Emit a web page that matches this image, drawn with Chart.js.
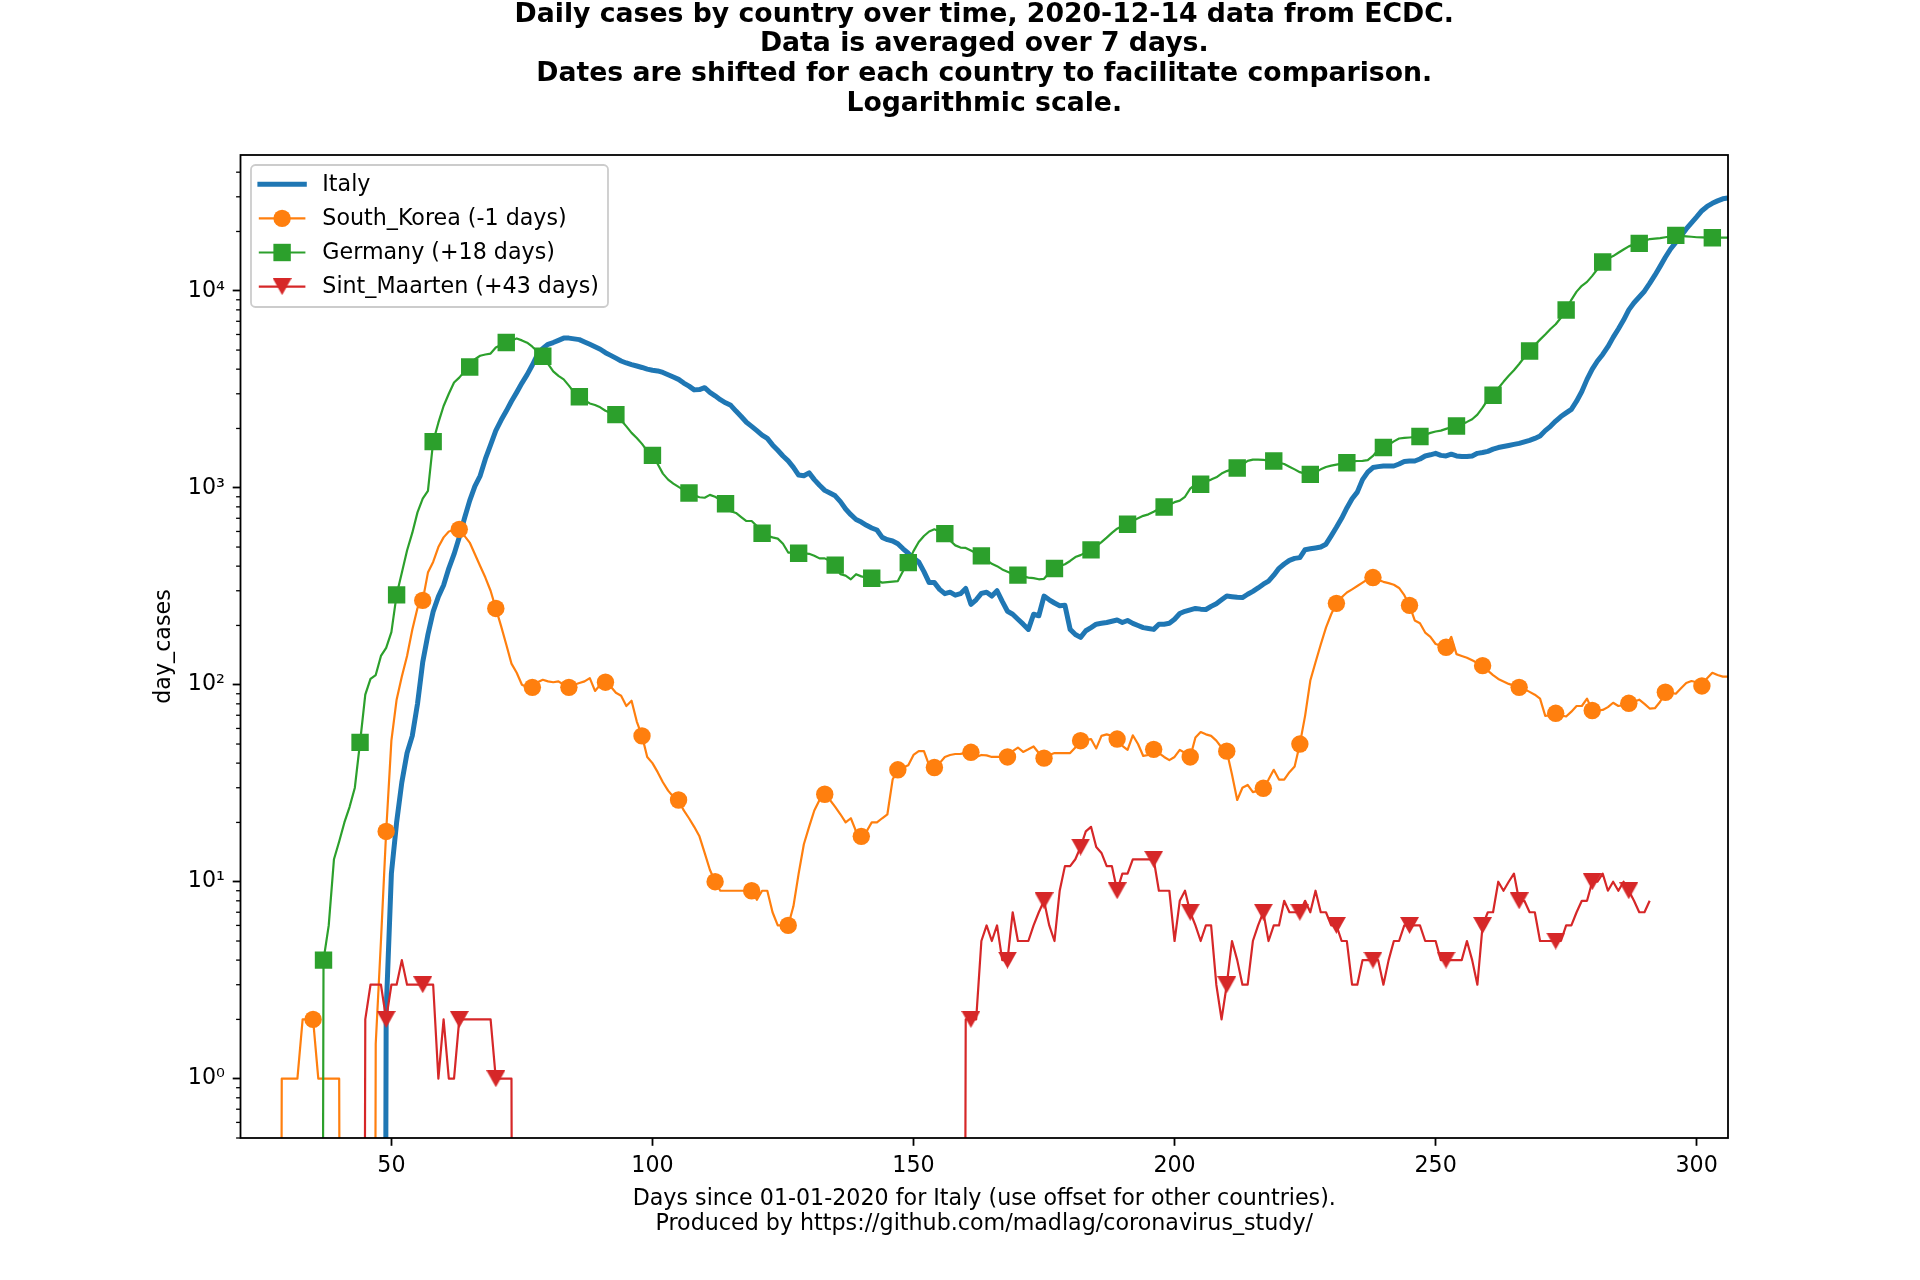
<!DOCTYPE html>
<html>
<head>
<meta charset="utf-8">
<script src="https://cdn.jsdelivr.net/npm/chart.js@4.4.1/dist/chart.umd.min.js"></script>
<style>
html,body{margin:0;padding:0;background:#fff;}
canvas{display:block;}
</style>
</head>
<body>
<canvas id="c" width="1920" height="1280" style="width:1920px;height:1280px"></canvas>
<script>
// ---------------- data ----------------
const titleLines = [
  'Daily cases by country over time, 2020-12-14 data from ECDC.',
  'Data is averaged over 7 days.',
  'Dates are shifted for each country to facilitate comparison.',
  'Logarithmic scale.'
];
const xLabelLines = [
  'Days since 01-01-2020 for Italy (use offset for other countries).',
  'Produced by https://github.com/madlag/coronavirus_study/'
];
const yLabel = 'day_cases';
const seriesLabels = ['Italy', 'South_Korea (-1 days)', 'Germany (+18 days)', 'Sint_Maarten (+43 days)'];

const xTickValues = [50, 100, 150, 200, 250, 300];
const yTickValues = [1, 10, 100, 1000, 10000];
const yTickLabels = ['10\u2070', '10\u00B9', '10\u00B2', '10\u00B3', '10\u2074'];

// Italy: one value per day starting at day 48
const italyStart = 48;
const italyCases = [0,2.2,11,20,32,45,55,80,130,180,235,280,320,390,460,560,700,860,1020,1150,1400,1650,1950,2200,2450,2750,3050,3400,3750,4200,4750,5100,5350,5460,5600,5750,5750,5700,5650,5500,5350,5200,5050,4850,4700,4550,4400,4300,4220,4150,4080,4000,3950,3920,3850,3750,3650,3550,3400,3280,3140,3150,3220,3050,2930,2800,2700,2620,2450,2300,2150,2050,1950,1850,1780,1650,1550,1450,1370,1270,1160,1150,1190,1100,1030,970,940,910,850,780,730,690,670,645,625,610,560,545,537,520,490,465,440,420,375,330,330,305,290,295,285,290,308,256,270,291,295,282,300,265,236,228,215,203,191,228,224,282,270,260,252,253,191,180,174,188,195,203,205,207,210,213,207,212,205,200,195,193,191,203,203,205,215,230,236,240,244,242,241,250,258,270,282,280,278,277,288,298,310,324,336,360,390,410,428,438,442,485,490,495,500,517,570,630,700,790,880,950,1100,1200,1266,1280,1290,1290,1290,1320,1360,1367,1367,1400,1450,1470,1495,1460,1450,1480,1450,1440,1440,1450,1495,1510,1530,1570,1600,1620,1640,1660,1680,1710,1740,1780,1830,1950,2050,2180,2300,2400,2500,2750,3080,3550,4000,4400,4750,5200,5800,6400,7100,8000,8700,9300,9950,10900,12000,13300,14800,16300,17600,19000,20600,22100,23700,25500,26800,27800,28600,29300,29600];

// South Korea: one value per day starting at day 28
const skStart = 28;
const skCases = [0,1,1,1,1,2,2,2,1,1,1,1,1,0,0,0,0,0,0,1.5,5,18,52,84,110,140,190,245,268,371,420,500,560,600,610,615,570,527,460,401,350,300,244,199,160,128,115,100,97,97,103,106,104,103,104,100,97,100,102,104,108,93,100,103,98,91,88,78,83,65,55,43,40,36,32,29,27,26,23,21,19,17,14,11.5,10,9,9,9,9,9,9,9,8.1,9,9,7,6,6,6,7.5,11,15.5,19,23,26,27.8,26,24,22,20,21,18,17,18,20,20,21,22,33,37,38,39,44,46,46,39,38,40,43,44,44.5,44.6,45,45.4,43,44,43.8,43,43,43,43,46,48,45.6,47,48.6,45,42.4,44,45,45,45,45,48,52,52.5,53,47.5,55,56,55,53,49,46.7,55.4,50,43.5,44,47,45,43,41.4,43,46.7,45,43,54,57.5,56,55,52,48,46,35,26,30,31,28.5,29,29.8,33,37,33,33,36,38.5,50,69.5,105,130,160,195,228,259,278,294,305,317,330,343,350,340,333,328,322,310,285,253,212,205,184,175,161,158,155,175,143,140,137,133,129,125,118,112,107,104,101,99,97,95,92,89,85,69.5,70,71.6,70,69,73,78,78,85,74,74,74.5,77,81,78,79,80.5,82,84,80,75.7,76,82,91.6,91,90,96,102,104.5,103,98.6,108,115,112,110,110];

// Germany: one value per day starting at day 36
const deStart = 36;
const deCases = [0,4,6,13,16,20,24,30,51,89,107,112,140,154,185,286,370,480,590,750,880,964,1715,2140,2600,3000,3420,3625,3900,4100,4500,4680,4750,4800,5150,5300,5460,5600,5730,5600,5450,5200,4900,4650,4250,3900,3700,3550,3300,3050,2900,2780,2680,2630,2560,2460,2400,2350,2200,2050,1900,1790,1670,1540,1460,1320,1180,1100,1050,1010,975,940,915,895,890,920,900,870,830,760,745,710,678,678,640,588,570,560,552,520,469,470,465,465,462,452,438,438,425,405,364,358,343,364,355,350,347,338,330,332,334,336,378,417,477,530,569,600,615,600,585,540,510,497,495,480,465,451,430,411,400,385,375,365,360,355,350,348,343,345,370,389,400,409,425,445,455,470,484,505,530,558,590,620,640,653,680,700,720,733,755,780,798,820,845,860,900,990,1042,1042,1075,1100,1130,1180,1215,1240,1260,1310,1370,1390,1390,1385,1375,1367,1340,1320,1280,1240,1200,1180,1170,1200,1240,1275,1295,1310,1325,1340,1360,1367,1370,1380,1450,1560,1600,1650,1720,1778,1790,1800,1810,1820,1860,1900,1930,1950,1990,2030,2060,2100,2160,2228,2350,2550,2800,2950,3200,3450,3700,3950,4250,4600,4945,5300,5650,6000,6400,6760,7300,7985,9000,9900,10600,11100,11900,12900,14000,14600,15000,15600,16200,16800,17200,17400,17900,18300,18400,18500,18700,18900,19100,19000,18900,18800,18700,18650,18600,18600,18600,18600,18600];

// Sint Maarten: explicit days (zero between day 74 and day 159)
const smDays = [44,45,46,47,48,49,50,51,52,53,54,55,56,57,58,59,60,61,62,63,64,65,66,67,68,69,70,71,72,73,74,
  159,160,161,162,163,164,165,166,167,168,169,170,171,172,173,174,175,176,177,178,179,180,181,182,183,184,185,186,187,188,189,190,
  191,192,193,194,195,196,197,198,199,200,201,202,203,204,205,206,207,208,209,210,211,212,213,214,215,216,217,218,219,220,
  221,222,223,224,225,226,227,228,229,230,231,232,233,234,235,236,237,238,239,240,241,242,243,244,245,246,247,248,249,250,
  251,252,253,254,255,256,257,258,259,260,261,262,263,264,265,266,267,268,269,270,271,272,273,274,275,276,277,278,279,280,
  281,282,283,284,285,286,287,288,289,290,291];
const smCases = [0,2,3,3,3,2,3,3,4,3,3,3,3,3,3,1,2,1,1,2,2,2,2,2,2,2,1,1,1,1,0,
  0,2,2,2,5,6,5,6,4,4,7,5,5,5,6,7,8,6,5,9,12,12,13,15,18,19,15,14,12,12,9,11,
  11,13,13,13,13,13,9,9,9,5,8,9,7,6,5,6,6,3,2,3,5,4,3,3,5,6,7,5,6,6,
  8,7,7,7,8,7,9,7,7,6,6,5,5,3,3,4,4,4,4,3,4,5,5,6,6,6,6,5,5,5,
  4,4,4,4,4,5,4,3,6,7,7,10,9,10,11,8,8,7,7,5,5,5,5,5,6,6,7,8,8,10,
  10,11,9,10,9,10,9,8,7,7,8];

// ---------------- helpers ----------------
const CLIP = 1e-10; // like matplotlib, non-positive values are clipped on a log axis
function seq(start, n) { return Array.from({length: n}, (_, i) => start + i); }
function toPoints(days, values) {
  return days.map((d, i) => ({x: d, y: values[i] > 0 ? values[i] : CLIP}));
}
const FONT = 'DejaVu Sans';
const F = 22.2;
const COLORS = ['#1f77b4', '#ff7f0e', '#2ca02c', '#d62728'];

function triangleDown(color, w, h) {
  const c = document.createElement('canvas');
  c.width = w; c.height = h;
  const g = c.getContext('2d');
  g.fillStyle = color;
  g.beginPath(); g.moveTo(0, 0); g.lineTo(w, 0); g.lineTo(w / 2, h); g.closePath(); g.fill();
  return c;
}
const triImg = triangleDown(COLORS[3], 19, 17);

function markerRadius(phase, r) {
  return (ctx) => (ctx.raw && ctx.raw.x % 7 === phase) ? r : 0;
}

Chart.defaults.color = '#000';
Chart.defaults.font.family = FONT;

// ---------------- plugins ----------------
const framePlugin = {
  id: 'mplFrame',
  afterDatasetsDraw(chart) {
    const {ctx, chartArea: a} = chart;
    const y = chart.scales.y;
    ctx.save();
    ctx.strokeStyle = '#000';
    ctx.lineWidth = 1.3;
    const e0 = Math.floor(Math.log10(y.min)), e1 = Math.ceil(Math.log10(y.max));
    for (let e = e0; e <= e1; e++) {
      for (let m = 2; m <= 9; m++) {
        const v = m * Math.pow(10, e);
        if (v < y.min || v > y.max) continue;
        const py = y.getPixelForValue(v);
        ctx.beginPath(); ctx.moveTo(a.left, py); ctx.lineTo(a.left - 4.4, py); ctx.stroke();
      }
    }
    ctx.lineWidth = 1.8;
    ctx.strokeRect(a.left, a.top, a.right - a.left, a.bottom - a.top);
    ctx.restore();
  }
};

const legendPlugin = {
  id: 'mplLegend',
  afterDraw(chart) {
    const ctx = chart.ctx;
    const bx = 251, by = 165, bw = 357, bh = 142, rr = 4.4;
    ctx.save();
    ctx.beginPath();
    ctx.moveTo(bx + rr, by);
    ctx.lineTo(bx + bw - rr, by); ctx.arcTo(bx + bw, by, bx + bw, by + rr, rr);
    ctx.lineTo(bx + bw, by + bh - rr); ctx.arcTo(bx + bw, by + bh, bx + bw - rr, by + bh, rr);
    ctx.lineTo(bx + rr, by + bh); ctx.arcTo(bx, by + bh, bx, by + bh - rr, rr);
    ctx.lineTo(bx, by + rr); ctx.arcTo(bx, by, bx + rr, by, rr);
    ctx.closePath();
    ctx.fillStyle = 'rgba(255,255,255,0.8)';
    ctx.fill();
    ctx.strokeStyle = '#cccccc';
    ctx.lineWidth = 1.8;
    ctx.stroke();

    const x0 = 259.9, x1 = 304.3, xm = (x0 + x1) / 2, tx = 322.3;
    chart.data.datasets.forEach((ds, i) => {
      const yy = 184.3 + 34.1 * i;
      ctx.beginPath();
      ctx.strokeStyle = ds.borderColor;
      ctx.lineWidth = ds.borderWidth;
      ctx.lineCap = 'square';
      ctx.moveTo(x0, yy); ctx.lineTo(x1, yy); ctx.stroke();
      ctx.fillStyle = ds.borderColor;
      if (ds.legendMarker === 'circle') {
        ctx.beginPath(); ctx.arc(xm, yy, 8.7, 0, Math.PI * 2); ctx.fill();
      } else if (ds.legendMarker === 'square') {
        ctx.fillRect(xm - 8.7, yy - 8.7, 17.4, 17.4);
      } else if (ds.legendMarker === 'triangle') {
        ctx.drawImage(triImg, xm - triImg.width / 2, yy - triImg.height / 2);
      }
      ctx.fillStyle = '#000';
      ctx.font = F + 'px "' + FONT + '"';
      ctx.textBaseline = 'middle';
      ctx.textAlign = 'left';
      ctx.fillText(ds.label, tx, yy + 1);
    });
    ctx.restore();
  }
};

// ---------------- chart ----------------
const common = {fill: false, tension: 0, borderJoinStyle: 'round', borderCapStyle: 'butt', pointBorderWidth: 0, pointHoverRadius: 0, clip: 0};

new Chart(document.getElementById('c'), {
  type: 'line',
  data: {
    datasets: [
      Object.assign({}, common, {
        label: seriesLabels[0], data: toPoints(seq(italyStart, italyCases.length), italyCases),
        borderColor: COLORS[0], borderWidth: 5, pointRadius: 0, order: 4, legendMarker: null
      }),
      Object.assign({}, common, {
        label: seriesLabels[1], data: toPoints(seq(skStart, skCases.length), skCases),
        borderColor: COLORS[1], borderWidth: 2.2, pointStyle: 'circle',
        pointRadius: markerRadius(0, 8.7), pointBackgroundColor: COLORS[1], order: 3, legendMarker: 'circle'
      }),
      Object.assign({}, common, {
        label: seriesLabels[2], data: toPoints(seq(deStart, deCases.length), deCases),
        borderColor: COLORS[2], borderWidth: 2.2, pointStyle: 'rect',
        pointRadius: markerRadius(2, 12.3), pointBackgroundColor: COLORS[2], order: 2, legendMarker: 'square'
      }),
      Object.assign({}, common, {
        label: seriesLabels[3], data: toPoints(smDays, smCases),
        borderColor: COLORS[3], borderWidth: 2.2, pointStyle: triImg,
        pointRadius: markerRadius(0, 9.5), pointBackgroundColor: COLORS[3], order: 1, legendMarker: 'triangle'
      })
    ]
  },
  options: {
    responsive: false,
    animation: false,
    devicePixelRatio: 1,
    events: [],
    layout: {padding: {left: 0, right: 192, top: 0, bottom: 0}},
    plugins: {legend: {display: false}, title: {display: false}, tooltip: {enabled: false}},
    scales: {
      x: {
        type: 'linear', position: 'bottom', min: 21.1, max: 306,
        afterBuildTicks: (s) => { s.ticks = xTickValues.map(v => ({value: v})); },
        afterFit: (s) => { s.height = 142; },
        grid: {display: true, drawOnChartArea: false, drawTicks: true, tickLength: 7.8, tickWidth: 1.8, tickColor: '#000'},
        border: {display: false},
        ticks: {color: '#000', font: {family: FONT, size: F}, padding: 6.8, maxRotation: 0, autoSkip: false,
                callback: (v) => String(v)},
        title: {display: true, text: xLabelLines, color: '#000',
                font: {family: FONT, size: F, lineHeight: '25.8px'}, padding: {top: 0, bottom: 42.5}}
      },
      y: {
        type: 'logarithmic', position: 'left', min: 0.5, max: 48900,
        afterBuildTicks: (s) => { s.ticks = yTickValues.map(v => ({value: v, major: true})); },
        afterFit: (s) => { s.width = 240.5; },
        grid: {display: true, drawOnChartArea: false, drawTicks: true, tickLength: 7.8, tickWidth: 1.8, tickColor: '#000'},
        border: {display: false},
        ticks: {color: '#000', font: {family: FONT, size: F}, padding: 7.8, autoSkip: false,
                callback: (v, i) => yTickLabels[i]},
        title: {display: true, text: yLabel, color: '#000',
                font: {family: FONT, size: F, lineHeight: '26.6px'}, padding: {top: 150.7, bottom: 0}}
      },
      titleAxis: {
        type: 'linear', position: 'top', display: true, min: 0, max: 1,
        afterFit: (s) => { s.height = 155; },
        grid: {display: false}, border: {display: false}, ticks: {display: false},
        title: {display: true, text: titleLines, color: '#000',
                font: {family: FONT, size: 26.7, weight: 'bold', lineHeight: '29.6px'}, padding: {top: 0, bottom: 0}}
      }
    }
  },
  plugins: [framePlugin, legendPlugin]
});
</script>
</body>
</html>
